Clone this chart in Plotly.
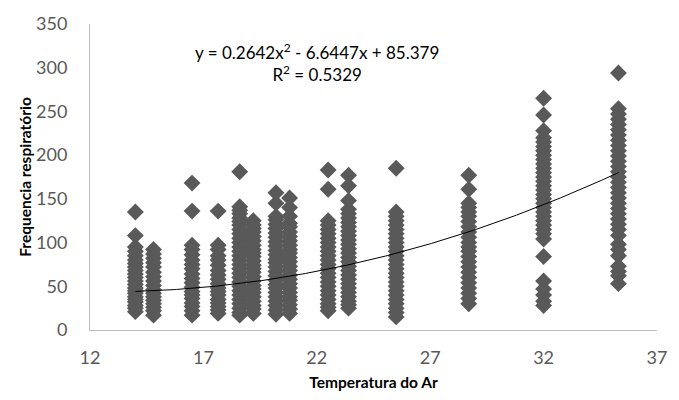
import numpy as np
import plotly.graph_objects as go

# Air temperature groups and respiratory frequency readings
temps = [14.0, 14.8, 16.5, 17.65, 18.6, 19.2, 20.2, 20.8, 22.5, 23.4, 25.5, 28.7, 32.0, 35.3]
freq = [
    [135, 108, 95, 90, 85, 80, 76, 72, 68, 64, 60, 56, 52, 48, 45, 42, 38, 35, 32, 28, 25, 21],
    [92, 87, 82, 77, 72, 66, 61, 56, 51, 46, 42, 38, 34, 30, 26, 22, 17],
    [168, 136, 97, 92, 86, 80, 75, 70, 64, 59, 54, 49, 44, 40, 36, 31, 27, 22, 17],
    [136, 97, 92, 85, 80, 74, 68, 63, 58, 53, 48, 44, 40, 35, 31, 27, 23, 19],
    [181, 141, 137, 133, 128, 124, 120, 115, 110, 105, 100, 95, 90, 85, 80, 75, 70, 65, 60, 55, 50, 45, 40, 35, 30, 25, 20, 17],
    [125, 120, 116, 112, 107, 102, 97, 92, 88, 84, 79, 74, 70, 66, 61, 56, 51, 47, 43, 38, 33, 28, 24, 19],
    [157, 145, 130, 126, 121, 116, 111, 106, 101, 96, 91, 86, 81, 77, 72, 67, 62, 57, 52, 48, 43, 38, 33, 28, 23, 18],
    [151, 140, 130, 122, 118, 112, 107, 102, 97, 92, 88, 83, 78, 73, 68, 63, 58, 53, 48, 43, 38, 34, 29, 24, 19],
    [183, 161, 125, 120, 115, 110, 105, 100, 95, 90, 85, 80, 75, 70, 65, 60, 55, 50, 45, 40, 35, 30, 26, 22],
    [177, 165, 148, 138, 133, 128, 123, 118, 113, 108, 103, 98, 93, 88, 83, 78, 73, 68, 63, 58, 53, 48, 43, 38, 33, 29, 25],
    [185, 135, 130, 125, 120, 115, 110, 105, 100, 95, 90, 85, 80, 75, 70, 65, 60, 55, 50, 45, 40, 35, 30, 25, 20, 15],
    [177, 161, 145, 140, 135, 130, 124, 118, 112, 106, 100, 95, 90, 84, 78, 72, 66, 60, 54, 48, 42, 36, 30],
    [265, 246, 228, 220, 215, 210, 205, 200, 195, 190, 185, 180, 175, 170, 165, 160, 155, 150, 145, 140, 135, 130, 125, 120, 115, 110, 104, 84, 56, 47, 40, 33, 28],
    [294, 253, 247, 241, 235, 229, 223, 217, 211, 205, 199, 193, 187, 181, 175, 169, 163, 157, 151, 145, 139, 133, 127, 121, 115, 108, 98, 92, 85, 73, 67, 62, 53],
]

# Polynomial trendline coefficients (as printed on the chart)
coef_a, coef_b, coef_c = 0.2642, -6.6447, 85.379
r_squared = 0.5329

x_ticks = [12, 17, 22, 27, 32, 37]
y_ticks = [0, 50, 100, 150, 200, 250, 300, 350]

xs, ys = [], []
for t, vals in zip(temps, freq):
    xs += [t] * len(vals)
    ys += vals

tx = np.linspace(min(temps), max(temps), 200)
ty = coef_a * tx ** 2 + coef_b * tx + coef_c

FONT = "Lato"
fig = go.Figure()
fig.add_trace(go.Scatter(x=xs, y=ys, mode="markers",
                         marker=dict(symbol="diamond", size=13, color="#595959", line=dict(width=0)),
                         showlegend=False, hoverinfo="x+y"))
fig.add_trace(go.Scatter(x=tx, y=ty, mode="lines", line=dict(color="black", width=1),
                         showlegend=False, hoverinfo="skip"))

fig.add_annotation(x=0.4, y=0.875, xref="paper", yref="paper", showarrow=False,
                   align="center", xanchor="center", yanchor="middle",
                   text=f"y = {coef_a}x<sup>2</sup> - {abs(coef_b)}x + {coef_c}<br>R<sup>2</sup> = {r_squared}",
                   font=dict(family=FONT, size=17, color="black"))

fig.update_layout(
    width=679, height=400,
    margin=dict(l=90, r=19, t=18, b=67),
    paper_bgcolor="white", plot_bgcolor="white",
    font=dict(family=FONT, size=18, color="#595959"),
    xaxis=dict(range=[12, 37], tickvals=x_ticks, showgrid=False, zeroline=False,
               showline=True, linecolor="#bfbfbf", linewidth=1, ticks="", ticklabelstandoff=11,
               tickfont=dict(family=FONT, size=18, color="#595959"),
               title=dict(text="<b>Temperatura do Ar</b>", font=dict(family=FONT, size=15.5, color="black"), standoff=10)),
    yaxis=dict(range=[0, 350], tickvals=y_ticks, showgrid=False, zeroline=False,
               showline=True, linecolor="#bfbfbf", linewidth=1, ticks="", ticklabelstandoff=18,
               tickfont=dict(family=FONT, size=18, color="#595959"),
               title=dict(text="<b>Frequencia respiratório</b>", font=dict(family=FONT, size=15.5, color="black"), standoff=0)),
)
fig.write_html("out.html")
